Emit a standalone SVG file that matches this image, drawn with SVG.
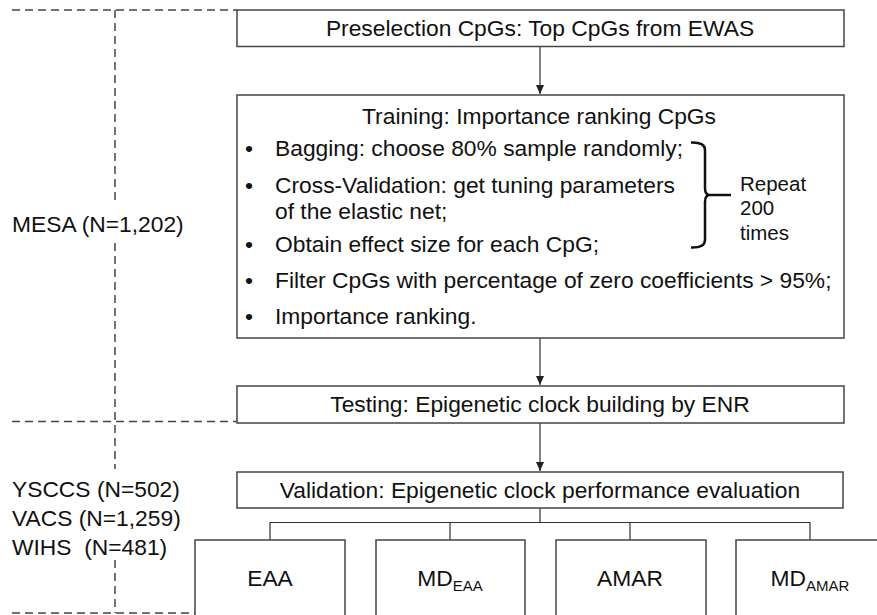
<svg xmlns="http://www.w3.org/2000/svg" width="877" height="615" viewBox="0 0 877 615">
<style>
text{font-family:"Liberation Sans",Arial,sans-serif;font-size:22.8px;fill:#111}
.c{text-anchor:middle}
.box{fill:#fff;stroke:#444;stroke-width:1.5}
.dash{fill:none;stroke:#444;stroke-width:1.5;stroke-dasharray:8,5}
.ln{fill:none;stroke:#333;stroke-width:1.2}
.sm{font-size:20.5px}
.sub{font-size:15px}
</style>
<defs>
<marker id="ah" markerWidth="10" markerHeight="10" refX="9" refY="5" orient="auto" markerUnits="userSpaceOnUse">
<path d="M0,1 L9,5 L0,9 Z" fill="#222"/>
</marker>
</defs>
<rect width="877" height="615" fill="#fff"/>
<g id="cohorts">
<path class="dash" d="M12,10 H237 M12,421.5 H237 M12,613 H195 M115,10 V204 M115,243 V469 M115,560 V613"/>
<text x="12" y="232">MESA (N=1,202)</text>
<text x="12" y="497">YSCCS (N=502)</text>
<text x="12" y="526">VACS (N=1,259)</text>
<text x="12" y="555">WIHS &#160;(N=481)</text>
</g>
<g id="connectors">
<path class="ln" d="M540,46.5 V94" marker-end="url(#ah)"/>
<path class="ln" d="M540,338 V385" marker-end="url(#ah)"/>
<path class="ln" d="M540,423 V471" marker-end="url(#ah)"/>
<path class="ln" d="M540,508 V522.5 M270,540 V522.5 H810 V540 M450,522.5 V540 M630,522.5 V540"/>
</g>
<g id="preselection">
<rect class="box" x="237" y="10" width="607" height="36.5"/>
<text class="c" x="540" y="36">Preselection CpGs: Top CpGs from EWAS</text>
</g>
<g id="training">
<rect class="box" x="237" y="95" width="607" height="243"/>
<text class="c" x="539" y="124">Training: Importance ranking CpGs</text>
<text x="245" y="156">•</text><text x="275" y="156">Bagging: choose 80% sample randomly;</text>
<text x="245" y="193">•</text><text x="275" y="193">Cross-Validation: get tuning parameters</text>
<text x="275" y="219">of the elastic net;</text>
<text x="245" y="252">•</text><text x="275" y="252">Obtain effect size for each CpG;</text>
<text x="245" y="288">•</text><text x="275" y="288">Filter CpGs with percentage of zero coefficients &gt; 95%;</text>
<text x="245" y="324">•</text><text x="275" y="324">Importance ranking.</text>
<path d="M691,142.5 Q705,142 705,150 V188 Q705,195 710,195 H731 M710,195 Q705,195 705,202 V240 Q705,248 691,247.5" fill="none" stroke="#111" stroke-width="2.5"/>
<text class="sm" x="740" y="191">Repeat</text>
<text class="sm" x="740" y="215">200</text>
<text class="sm" x="740" y="240">times</text>
</g>
<g id="testing">
<rect class="box" x="237" y="386" width="607" height="37"/>
<text class="c" x="540" y="412">Testing: Epigenetic clock building by ENR</text>
</g>
<g id="validation">
<rect class="box" x="237" y="472" width="606" height="36"/>
<text class="c" x="540" y="498">Validation: Epigenetic clock performance evaluation</text>
</g>
<g id="eaa">
<rect class="box" x="195" y="540" width="150" height="90"/>
<text class="c" x="270" y="586">EAA</text>
</g>
<g id="md-eaa">
<rect class="box" x="376" y="540" width="149" height="90"/>
<text class="c" x="450" y="586">MD<tspan class="sub" dy="5">EAA</tspan></text>
</g>
<g id="amar">
<rect class="box" x="556" y="540" width="150" height="90"/>
<text class="c" x="630" y="586">AMAR</text>
</g>
<g id="md-amar">
<rect class="box" x="736" y="540" width="160" height="90"/>
<text class="c" x="810" y="586">MD<tspan class="sub" dy="5">AMAR</tspan></text>
</g>
</svg>
